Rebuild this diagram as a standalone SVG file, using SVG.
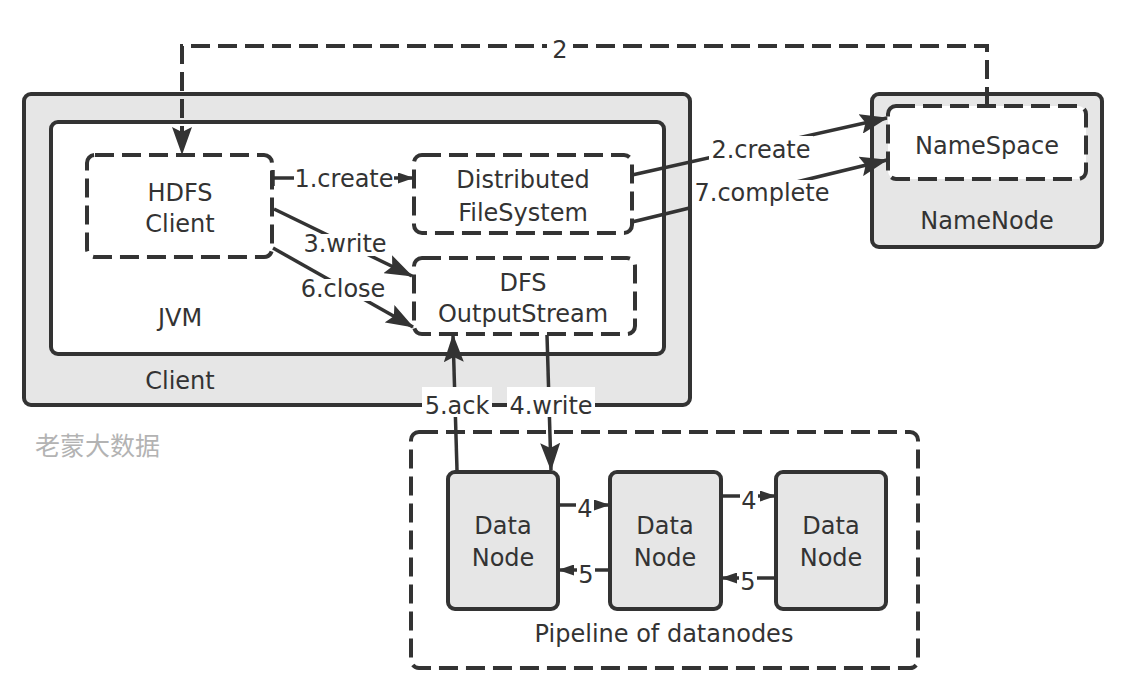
<svg xmlns="http://www.w3.org/2000/svg" width="1132" height="690" viewBox="0 0 1132 690">
<style>
  .solid { fill: #e6e6e6; stroke: #333; stroke-width: 4; }
  .white { fill: #fff; stroke: #333; stroke-width: 4; }
  .dash { fill: #fff; stroke: #333; stroke-width: 4; stroke-dasharray: 19 8; }
  .pipe { fill: none; stroke: #333; stroke-width: 4; stroke-dasharray: 19 8; }
  text { font-family: "DejaVu Sans", "Liberation Sans", sans-serif; font-size: 24px; fill: #333; text-anchor: middle; }
  .ln { fill: none; stroke: #333; stroke-width: 3.5; }
  .dl { fill: none; stroke: #333; stroke-width: 4; stroke-dasharray: 19 8; }
  .bg { fill: #fff; stroke: none; }
  .wm { font-family: "Noto Sans CJK SC", sans-serif; font-size: 25px; fill: #b3b3b3; text-anchor: start; }
</style>
<defs>
  <marker id="big" markerUnits="userSpaceOnUse" markerWidth="28" markerHeight="20" refX="27" refY="10" orient="auto">
    <path d="M0,0 L28,10 L0,20 L5,10 z" fill="#333"/>
  </marker>
  <marker id="small" markerUnits="userSpaceOnUse" markerWidth="16" markerHeight="11" refX="15" refY="5.5" orient="auto">
    <path d="M0,0 L16,5.5 L0,11 z" fill="#333"/>
  </marker>
</defs>
<rect width="1132" height="690" fill="#fff"/>

<g id="client">
  <rect class="solid" x="24" y="94" width="666" height="311" rx="7"/>
  <text x="180" y="389">Client</text>
</g>
<g id="jvm">
  <rect class="white" x="51" y="122" width="613" height="232" rx="7"/>
  <text x="180" y="326">JVM</text>
</g>
<g id="hdfs-client">
  <rect class="dash" x="87" y="155" width="185" height="102" rx="8"/>
  <text x="180" y="201">HDFS</text>
  <text x="180" y="232">Client</text>
</g>
<g id="distributed-fs">
  <rect class="dash" x="414" y="155" width="218" height="78" rx="8"/>
  <text x="523" y="188">Distributed</text>
  <text x="523" y="221">FileSystem</text>
</g>
<g id="dfs-outputstream">
  <rect class="dash" x="414" y="258" width="221" height="76" rx="8"/>
  <text x="523" y="291">DFS</text>
  <text x="523" y="322">OutputStream</text>
</g>
<g id="namenode">
  <rect class="solid" x="872" y="94" width="230" height="153" rx="7"/>
  <text x="987" y="229">NameNode</text>
</g>
<g id="namespace">
  <rect class="dash" x="888" y="106" width="198" height="73" rx="8"/>
  <text x="987" y="154">NameSpace</text>
</g>
<g id="pipeline">
  <rect class="pipe" x="411" y="432" width="507" height="236" rx="8"/>
  <text x="664" y="642">Pipeline of datanodes</text>
</g>
<g id="datanode1">
  <rect class="solid" x="448" y="472" width="110" height="137" rx="7"/>
  <text x="503" y="534">Data</text>
  <text x="503" y="566">Node</text>
</g>
<g id="datanode2">
  <rect class="solid" x="610" y="472" width="111" height="137" rx="7"/>
  <text x="665" y="534">Data</text>
  <text x="665" y="566">Node</text>
</g>
<g id="datanode3">
  <rect class="solid" x="776" y="472" width="110" height="137" rx="7"/>
  <text x="831" y="534">Data</text>
  <text x="831" y="566">Node</text>
</g>

<g id="connectors">
  <!-- 2: namespace -> hdfs client -->
  <path class="dl" d="M987,106 L987,46 L182,46 L182,154" marker-end="url(#big)"/>
  <rect class="bg" x="547" y="36" width="26" height="28"/>
  <text x="560" y="58">2</text>

  <!-- 1.create -->
  <line class="ln" x1="272" y1="178" x2="413" y2="178" marker-end="url(#small)"/>
  <line class="ln" x1="273" y1="170" x2="273" y2="186"/>
  <rect class="bg" x="294" y="166" width="100" height="26"/>
  <text x="344" y="187">1.create</text>

  <!-- 3.write -->
  <line class="ln" x1="274" y1="209" x2="412" y2="276" marker-end="url(#big)"/>
  <rect class="bg" x="303" y="234" width="85" height="22"/>
  <text x="345" y="252">3.write</text>

  <!-- 6.close -->
  <line class="ln" x1="273" y1="248" x2="413" y2="327" marker-end="url(#big)"/>
  <rect class="bg" x="300" y="279" width="88" height="22"/>
  <text x="343" y="297">6.close</text>

  <!-- 2.create -->
  <line class="ln" x1="632" y1="175" x2="887" y2="118" marker-end="url(#big)"/>
  <rect class="bg" x="709" y="136" width="104" height="26"/>
  <text x="761" y="158">2.create</text>

  <!-- 7.complete -->
  <line class="ln" x1="632" y1="222" x2="887" y2="160" marker-end="url(#big)"/>
  <rect class="bg" x="692" y="180" width="140" height="30"/>
  <text x="762" y="201">7.complete</text>

  <!-- 5.ack -->
  <line class="ln" x1="457" y1="470" x2="453" y2="335" marker-end="url(#big)"/>
  <rect class="bg" x="422" y="387" width="70" height="30"/>
  <text x="457" y="414">5.ack</text>

  <!-- 4.write -->
  <line class="ln" x1="547" y1="335" x2="551" y2="470" marker-end="url(#big)"/>
  <rect class="bg" x="507" y="387" width="88" height="30"/>
  <text x="551" y="414">4.write</text>

  <!-- pipeline 4 / 5 -->
  <line class="ln" x1="558" y1="505" x2="609" y2="505" marker-end="url(#small)"/>
  <rect class="bg" x="576" y="495" width="18" height="24"/>
  <text x="585" y="517">4</text>
  <line class="ln" x1="610" y1="570" x2="559" y2="570" marker-end="url(#small)"/>
  <rect class="bg" x="577" y="560" width="18" height="24"/>
  <text x="586" y="583">5</text>
  <line class="ln" x1="721" y1="496" x2="775" y2="496" marker-end="url(#small)"/>
  <rect class="bg" x="740" y="486" width="18" height="24"/>
  <text x="749" y="509">4</text>
  <line class="ln" x1="776" y1="578" x2="722" y2="578" marker-end="url(#small)"/>
  <rect class="bg" x="739" y="568" width="18" height="24"/>
  <text x="748" y="590">5</text>
</g>

<g id="watermark">
  <text class="wm" x="35" y="455">老蒙大数据</text>
</g>
</svg>
